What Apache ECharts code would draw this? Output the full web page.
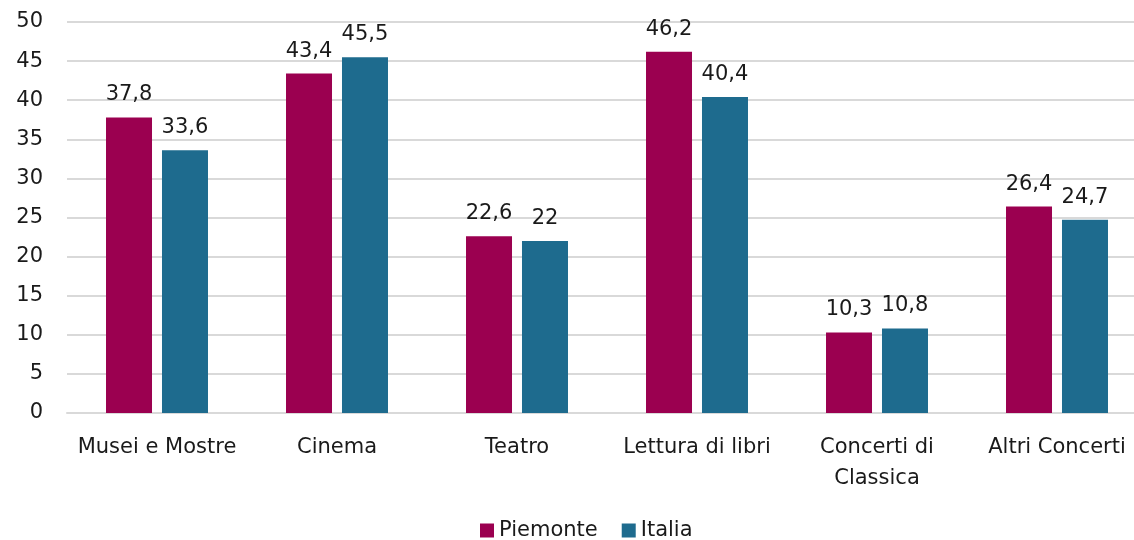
<!DOCTYPE html>
<html><head><meta charset="utf-8">
<script src="https://cdn.jsdelivr.net/npm/echarts@6/dist/echarts.min.js"></script>
<style>html,body{margin:0;padding:0;background:#fff}#c{width:1134px;height:540px}</style>
</head><body><div id="c"></div>
<script>
const categories = ['Musei e Mostre','Cinema','Teatro','Lettura di libri','Concerti di\nClassica','Altri Concerti'];
const piemonte = [37.8, 43.4, 22.6, 46.2, 10.3, 26.4];
const italia = [33.6, 45.5, 22, 40.4, 10.8, 24.7];
const seriesNames = ['Piemonte','Italia'];
const FONT = 'DejaVu Sans';
const chart = echarts.init(document.getElementById('c'));
const lbl = {show:true, position:'top', distance:12, color:'#1a1a1a', fontSize:21, fontFamily:FONT,
  formatter: p => String(p.value).replace('.', ',')};
chart.setOption({
  animation:false,
  textStyle:{fontFamily:FONT},
  grid:{left:67, width:1080, top:22, bottom:127, containLabel:false, outerBoundsMode:'none'},
  legend:{top:515, left:475, itemWidth:14, itemHeight:14, itemGap:24, icon:'rect',
    textStyle:{fontSize:21, color:'#1a1a1a', fontFamily:FONT}, data:seriesNames},
  xAxis:{type:'category', data:categories,
    axisLine:{lineStyle:{color:'#d9d9d9', width:2}}, axisTick:{show:false},
    axisLabel:{fontSize:21, color:'#1a1a1a', margin:19, lineHeight:31, interval:0, fontFamily:FONT}},
  yAxis:{type:'value', min:0, max:50, interval:5,
    splitLine:{lineStyle:{color:'#d9d9d9', width:2}},
    axisLabel:{fontSize:21, color:'#1a1a1a', margin:24, fontFamily:FONT}},
  series:[
    {name:seriesNames[0], type:'bar', data:piemonte, barWidth:46, barGap:'21.7%', itemStyle:{color:'#9b0050'}, label:lbl},
    {name:seriesNames[1], type:'bar', data:italia, barWidth:46, itemStyle:{color:'#1e6b8e'}, label:lbl}
  ]
});
</script></body></html>
